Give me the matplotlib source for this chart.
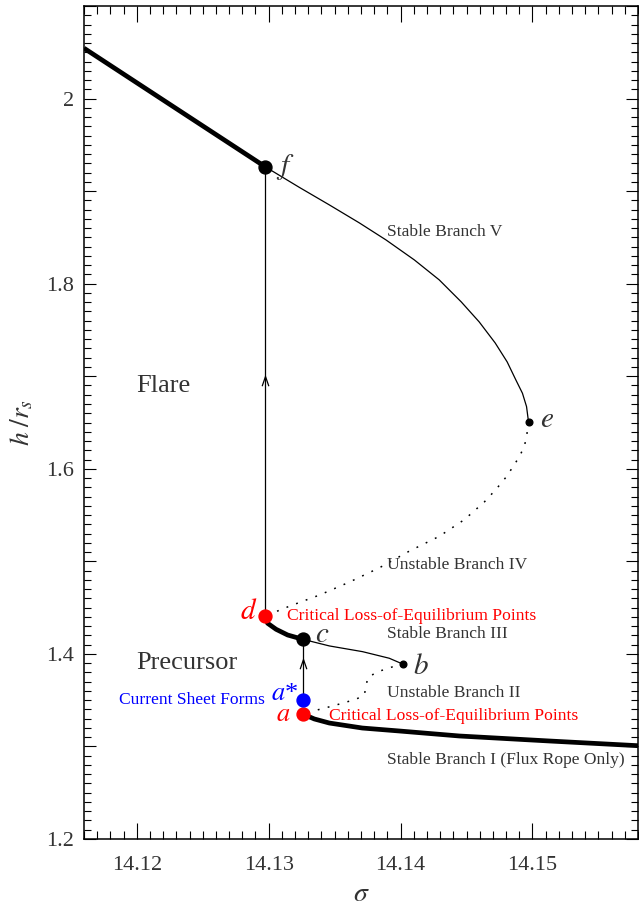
import numpy as np
import matplotlib
matplotlib.use("Agg")
import matplotlib.pyplot as plt
from matplotlib.ticker import MultipleLocator, FuncFormatter
from matplotlib.path import Path

plt.rcParams['font.family'] = ['Liberation Serif', 'DejaVu Serif']
plt.rcParams['mathtext.fontset'] = 'stix'

# ---------------- data ----------------
# Stable Branch V (thick part, left of f)
sig_V_thick = [14.11600, 14.12300, 14.12975]
h_V_thick = [2.0544, 1.9891, 1.9262]
# Stable Branch V (thin part, f -> e)
sig_V_thin = [14.12975, 14.13233, 14.13460, 14.13687, 14.13889, 14.14104, 14.14293,
              14.14460, 14.14596, 14.14717, 14.14808, 14.14874, 14.14924, 14.14955, 14.14970]
h_V_thin = [1.9262, 1.9040, 1.8851, 1.8657, 1.8473, 1.8257, 1.8041,
            1.7803, 1.7587, 1.7360, 1.7155, 1.6960, 1.6816, 1.6672, 1.6506]
# Unstable Branch IV (e -> d)
sig_IV = [14.14970, 14.14955, 14.14937, 14.14899, 14.14861, 14.14801, 14.14725, 14.14634,
          14.14483, 14.14293, 14.14066, 14.13839, 14.13611, 14.13384, 14.13157, 14.12975]
h_IV = [1.6506, 1.6344, 1.6236, 1.6128, 1.6041, 1.5912, 1.5780, 1.5640,
        1.5450, 1.5270, 1.5110, 1.4930, 1.4775, 1.4635, 1.4515, 1.4410]
# Stable Branch III (thick, d -> c)
sig_III_thick = [14.12975, 14.12992, 14.13056, 14.13144, 14.13258]
h_III_thick = [1.4410, 1.4331, 1.4266, 1.4204, 1.4158]
# Stable Branch III (thin, c -> b)
sig_III_thin = [14.13258, 14.13460, 14.13712, 14.13914, 14.14015]
h_III_thin = [1.4158, 1.4086, 1.4024, 1.3953, 1.3891]
# Unstable Branch II (b -> a)
sig_II = [14.14015, 14.13958, 14.13814, 14.13750, 14.13738, 14.13725,
          14.13662, 14.13573, 14.13485, 14.13397, 14.13258]
h_II = [1.3891, 1.3869, 1.3801, 1.3737, 1.3646, 1.3556,
        1.3510, 1.3473, 1.3437, 1.3405, 1.3351]
# Stable Branch I (a -> right)
sig_I = [14.13258, 14.13346, 14.13460, 14.13710, 14.13990, 14.14445, 14.15127, 14.15800]
h_I = [1.3351, 1.3297, 1.3253, 1.3199, 1.3167, 1.3113, 1.3059, 1.3008]

# special points
pt_names = ['f', 'e', 'd', 'c', 'b', 'a', 'a*']
pt_sig = {'f': 14.12975, 'e': 14.14970, 'd': 14.12975, 'c': 14.13258,
          'b': 14.14015, 'a': 14.13258, 'a*': 14.13258}
pt_h = {'f': 1.9262, 'e': 1.6506, 'd': 1.4410, 'c': 1.4158,
        'b': 1.3891, 'a': 1.3351, 'a*': 1.3502}
# arrow tip heights on the two jumps
arrow_h_flare = 1.700
arrow_h_precursor = 1.395

xticks = [14.12, 14.13, 14.14, 14.15]

# ---------------- figure ----------------
fig = plt.figure(figsize=(6.39, 9.09), dpi=100)
ax = fig.add_axes([84/639, (909-839)/909, (638-84)/639, (839-6)/909])
ax.set_xlim(14.116, 14.158)
ax.set_ylim(1.2, 2.1)

thick = 3.4
thin = 0.9
dot = (0, (1.2, 5.5))

ax.plot(sig_V_thick, h_V_thick, color='black', lw=thick, solid_capstyle='butt')
ax.plot(sig_V_thin, h_V_thin, color='black', lw=thin)
ax.plot(sig_IV, h_IV, color='black', lw=1.1, linestyle=dot)
ax.plot(sig_III_thick, h_III_thick, color='black', lw=thick, solid_capstyle='round')
ax.plot(sig_III_thin, h_III_thin, color='black', lw=thin)
ax.plot(sig_II, h_II, color='black', lw=1.1, linestyle=dot)
ax.plot(sig_I, h_I, color='black', lw=thick, solid_capstyle='butt')

# jumps
ax.plot([pt_sig['d'], pt_sig['f']], [pt_h['d'], pt_h['f']], color='black', lw=thin)
ax.plot([pt_sig['a*'], pt_sig['c']], [pt_h['a*'], pt_h['c']], color='black', lw=thin)

chevron = Path([(-0.55, -1.6), (0, 0), (0.55, -1.6)],
               [Path.MOVETO, Path.LINETO, Path.LINETO])
ax.plot([pt_sig['d']], [arrow_h_flare], marker=chevron, markersize=14,
        color='black', markerfacecolor='none', markeredgewidth=0.9, linestyle='none')
ax.plot([pt_sig['c']], [arrow_h_precursor], marker=chevron, markersize=14,
        color='black', markerfacecolor='none', markeredgewidth=0.9, linestyle='none')

# markers
big = 9.3
for n in ['f', 'c']:
    ax.plot(pt_sig[n], pt_h[n], 'o', color='black', ms=big, zorder=5)
for n in ['b', 'e']:
    ax.plot(pt_sig[n], pt_h[n], 'o', color='black', ms=4.8, zorder=5)
for n in ['d', 'a']:
    ax.plot(pt_sig[n], pt_h[n], 'o', color='red', ms=big, zorder=6)
ax.plot(pt_sig['a*'], pt_h['a*'], 'o', color='blue', ms=big, zorder=6)

# point labels
gray = '#333333'
lab_fs = 21
def plab(name, txt, dx, dy, color, ha='left', fs=lab_fs):
    ax.annotate(txt, (pt_sig[name], pt_h[name]), xytext=(dx, dy),
                textcoords='offset pixels', ha=ha, va='center',
                fontsize=fs, color=color)
plab('f', r'$f$', 11, 0, gray)
plab('e', r'$e$', 11, 2, gray)
plab('b', r'$b$', 10, -3, gray)
plab('c', r'$c$', 12, 4, gray)
plab('d', r'$d$', -8, 4, 'red', ha='right')
plab('a*', r'$a$*', -5, 6, 'blue', ha='right', fs=19)
plab('a', r'$a$', -12, -1, 'red', ha='right', fs=19)

# text annotations
fs_small = 12.6
ax.text(14.11998, 1.6895, 'Flare', fontsize=19, color=gray, va='center')
ax.text(14.11998, 1.3902, 'Precursor', fontsize=19, color=gray, va='center')
ax.text(14.11862, 1.3502, 'Current Sheet Forms', fontsize=fs_small, color='blue', va='center')
ax.text(14.13142, 1.4410, 'Critical Loss-of-Equilibrium Points', fontsize=fs_small, color='red', va='center')
ax.text(14.13460, 1.3329, 'Critical Loss-of-Equilibrium Points', fontsize=fs_small, color='red', va='center')
ax.text(14.13900, 1.8559, 'Stable Branch V', fontsize=fs_small, color=gray, va='center')
ax.text(14.13900, 1.4961, 'Unstable Branch IV', fontsize=fs_small, color=gray, va='center')
ax.text(14.13900, 1.4215, 'Stable Branch III', fontsize=fs_small, color=gray, va='center')
ax.text(14.13900, 1.3578, 'Unstable Branch II', fontsize=fs_small, color=gray, va='center')
ax.text(14.13900, 1.2854, 'Stable Branch I (Flux Rope Only)', fontsize=fs_small, color=gray, va='center')

# axes styling
ax.set_xticks(xticks)
ax.xaxis.set_minor_locator(MultipleLocator(0.001))
ax.yaxis.set_major_locator(MultipleLocator(0.1))
ax.yaxis.set_minor_locator(MultipleLocator(0.01))
ax.xaxis.set_major_formatter(FuncFormatter(lambda v, p: '%.2f' % v))
ax.yaxis.set_major_formatter(FuncFormatter(
    lambda v, p: ('%g' % round(v, 1)) if int(round(v * 10)) % 2 == 0 else ''))
ax.tick_params(axis='both', which='both', direction='in', top=True, right=True,
               colors='black', labelcolor=gray, width=0.8)
ax.tick_params(axis='x', which='major', length=11.3, pad=12, labelsize=16)
ax.tick_params(axis='x', which='minor', length=5.8)
ax.tick_params(axis='y', which='major', length=8.6, pad=7, labelsize=16)
ax.tick_params(axis='y', which='minor', length=4.8)
for s in ax.spines.values():
    s.set_linewidth(1.1)

ax.set_xlabel(r'$\sigma$', fontsize=20, color=gray, labelpad=5)
ax.set_ylabel(r'$h\;/r_s$', fontsize=20, color=gray, labelpad=8)

fig.savefig('out.png', dpi=100)
